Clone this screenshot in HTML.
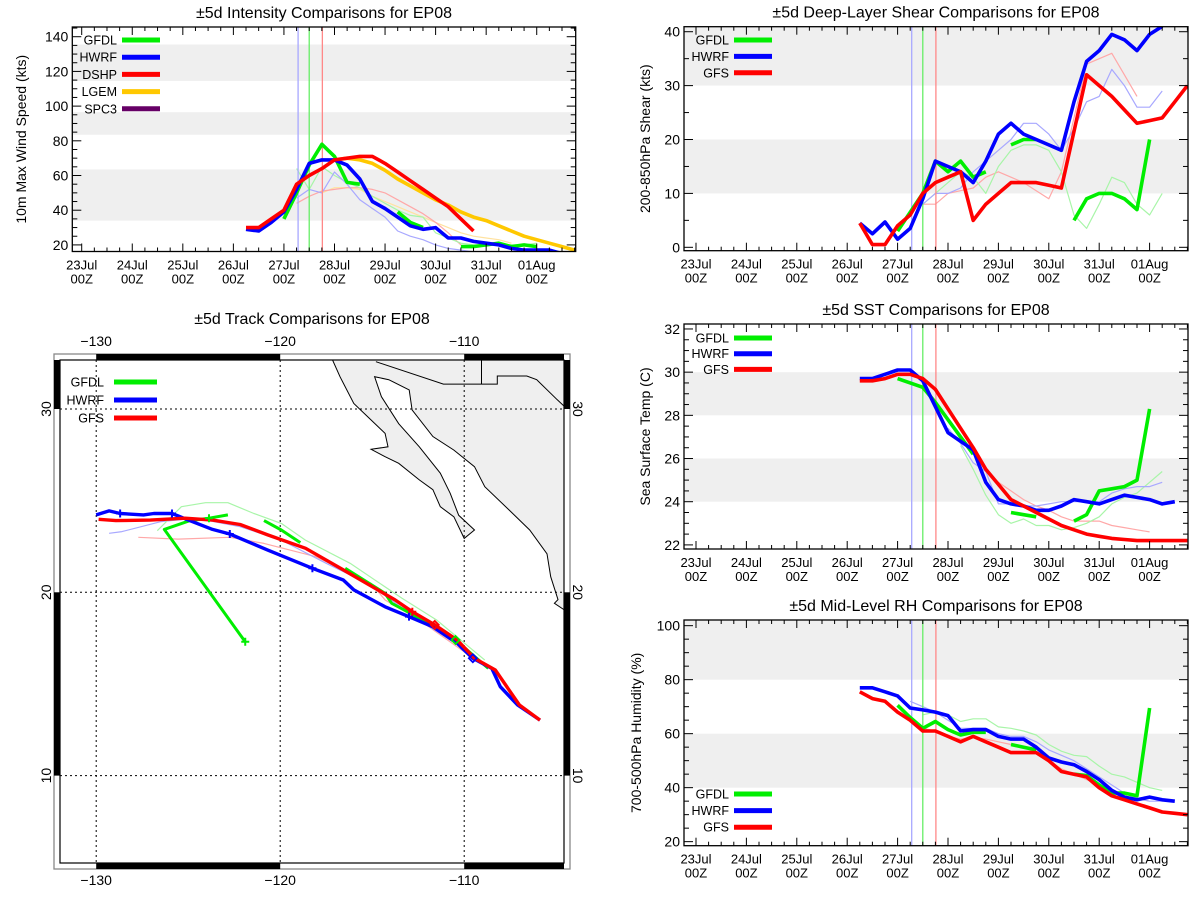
<!DOCTYPE html>
<html><head><meta charset="utf-8"><title>EP08 comparisons</title>
<style>
html,body{margin:0;padding:0;background:#fff;}
svg{display:block;font-family:"Liberation Sans",sans-serif;}
</style></head>
<body>
<svg id="chart" width="1200" height="900" viewBox="0 0 1200 900" xmlns="http://www.w3.org/2000/svg">
<rect x="0" y="0" width="1200" height="900" fill="#fff"/>
</svg>
<script>
// ---------- DATA ----------
const dayLabels = ["23Jul","24Jul","25Jul","26Jul","27Jul","28Jul","29Jul","30Jul","31Jul","01Aug"];
const vlineTimes = [4.28, 4.5, 4.76];

// Intensity (kts), 6-hourly from start day
const intStart = 3.25;
const intGfdl = [null,null,null,35,50,66,78,71,56,55,null,null,39,33,30,null,null,19,19,20,21,19,20,19];
const intHwrf = [29,28,33,39,52,67,69,69,66,58,45,41,36,31,29,30,24,24,22,21,20,18,17,17,17,15];
const intDshp = [30,30,35,40,55,60,64,69,70,71,71,67,62,57,52,47,42,35,28];
const lgemStart = 5.0;
const intLgem = [69,70,69,67,63,58,54,50,46,43,39,36,34,31,28,25,23,21,19,17];
const oldStartA = 4.25;
const intGfdlOld = [64,52,65,60,56,53,48,44,40,37,36,27,24,21,20,20,20,20,20,21];
const intHwrfOld = [47,52,50,62,55,46,41,36,28,25,23,20,18,17,16];
const intDshpOld = [44,48,51,52,53,53,52,50,46,42,38,33,27,20];
const lgemOldStart = 4.75;
const intLgemOld = [50,53,53,52,48,45,42,39,36,33,30,27,25,24,23,21];
const intTicks = [20,40,60,80,100,120,140];

// Shear (kts)
const shStart = 3.25;
const shHwrf = [4.5,2.5,4.7,1.5,3.5,9,16,15,14,12,16,21,23,21,20,19,18,27,34.5,36.5,39.5,38.5,36.5,39.5,41];
const shGfs = [4.5,0.5,0.5,4,6,10,12,13,14,5,8,10,12,12,12,11.5,11,21.5,32,30,28,25.5,23,23.5,24,27,30];
const shGfdl = [null,null,null,3,6.5,10,16,14,16,13,14,null,19,20,20,null,null,5,9,10,10,9,7,20];
const shOldStart = 4.5;
const shHwrfOld = [8,10,10,11,14,16,18,20,23,23,21,18,22,27,28,33,30,26,26,29];
const shGfsOld = [8,8,10,10.5,11,13,14,13,12,10.5,9,14,24,34,35,36,32,28];
const shGfdlOld = [8,10,12,14,13,10,15,18,19,19,18,14,6,3.5,8,13,12,8,6,10];
const shTicks = [0,10,20,30,40];

// SST (C)
const sstStart = 3.25;
const sstHwrf = [29.7,29.7,29.9,30.1,30.1,29.6,28.4,27.2,26.8,26.4,24.9,24.1,23.9,23.8,23.6,23.6,23.8,24.1,24.0,23.9,24.1,24.3,24.2,24.1,23.9,24.0];
const sstGfs = [29.6,29.6,29.7,29.9,29.9,29.7,29.2,28.3,27.4,26.5,25.5,24.8,24.1,23.8,23.5,23.2,22.9,22.7,22.5,22.4,22.3,22.25,22.2,22.2,22.2,22.2,22.2];
const sstGfdl = [null,null,null,29.7,29.5,29.3,28.6,27.8,27.0,26.2,null,null,23.5,23.4,23.3,null,null,23.1,23.4,24.5,24.6,24.7,25.0,28.3];
const sstHwrfOldStart = 5.0;
const sstHwrfOld = [27.4,26.7,25.8,25.4,23.9,23.9,23.8,23.8,23.9,24.0,24.0,24.0,24.0,24.4,24.6,24.7,24.7,24.9];
const sstGfsOldStart = 5.5;
const sstGfsOld = [26.3,25.4,24.9,24.5,24.1,23.8,23.6,23.3,23.1,23.1,23.1,22.9,22.8,22.7,22.6];
const sstGfdlOldStart = 5.25;
const sstGfdlOld = [26.6,25.5,24.3,23.4,23.0,23.2,22.9,22.9,22.7,22.8,23.0,23.3,23.9,24.2,24.4,24.9,25.4];
const sstTicks = [22,24,26,28,30,32];

// RH (%)
const rhStart = 3.25;
const rhHwrf = [77,77,75.5,74,69.5,68.8,68,66.7,61,61.5,61.5,59,58,58,55,51,49.5,48.5,46,43,39,36.5,35.5,36.5,35.5,35];
const rhGfs = [75.5,73,72,68,65,61,61,59,57,59,57,55,53,53,53,50,46,45,44,40,37,35.5,34,32.5,31,30.5,30];
const rhGfdl = [null,null,null,70.5,66,62,64.5,61.5,59.5,60.5,60.5,null,56,55,54,null,null,45,44.5,41,38,38,37,69.5];
const rhGfdlOldStart = 4.5;
const rhGfdlOld = [67,68,67,64.5,65.5,65.5,62.5,62,61,59.5,56,53.5,52,51.5,48,45,44,42,40,39];
const rhHwrfOldStart = 4.25;
const rhHwrfOld = [72,70,68,65,62,62,62,60,59,59,57,54,52,50,47,44,41,38,36,35,35];
const rhGfsOldStart = 4.5;
const rhGfsOld = [62,61,59,58,58.5,58,57,56,55,53,50,47,45,43,41,39,37,36,35];
const rhTicks = [20,40,60,80,100];

// Track (lon, lat)
const trkHwrfLon = [-130,-129.3,-128.7,-127.43,-126.87,-125.88,-124.99,-123.68,-122.74,-120.68,-118.25,-116.57,-116.0,-114.3,-113.0,-111.7,-110.38,-109.53,-108.5,-108.04,-107.1,-105.88];
const trkHwrfLat = [24.22,24.44,24.3,24.22,24.3,24.3,23.94,23.43,23.18,22.3,21.31,20.67,20.13,19.21,18.67,18.12,17.22,16.4,15.85,14.85,13.85,13.03];
const trkGfsLon = [-129.87,-128.93,-127.06,-125.18,-123.68,-122.18,-120.68,-118.62,-116.57,-113.75,-112.82,-111.6,-110.38,-109.44,-108.31,-107.0,-105.88];
const trkGfsLat = [23.98,23.91,23.94,24.04,23.94,23.7,23.13,22.4,21.22,19.58,18.94,18.22,17.4,16.4,15.76,13.85,13.03];
const trkGfdl1Lon = [-122.84,-123.87,-124.9,-126.3,-121.9];
const trkGfdl1Lat = [24.22,24.04,23.91,23.43,17.3];
const trkGfdl2Lon = [-120.88,-119.94,-118.91];
const trkGfdl2Lat = [23.91,23.4,22.71];
const trkGfdl3Lon = [-116.47,-114.3,-113.94,-112.9,-110.47,-108.69];
const trkGfdl3Lat = [21.31,19.94,19.4,18.85,17.4,15.85];
const trkGfdlOldLon = [-126.68,-125.37,-124.06,-122.84,-121.43,-119.94,-118.63,-116.2,-113.38,-111.5,-108.88];
const trkGfdlOldLat = [23.36,24.67,24.89,24.89,24.3,23.76,22.85,21.58,19.67,18.49,16.3];
const trkHwrfOldLon = [-129.3,-128.6,-126.5,-124.6,-122.18,-119.94,-117.5,-115.25,-112.44,-109.63];
const trkHwrfOldLat = [23.22,23.31,23.85,24.04,23.58,22.85,21.58,20.49,18.49,16.67];
const trkGfsOldLon = [-127.71,-125.56,-122.74,-120.88,-118.06,-115.06,-114.3,-112.44,-109.63];
const trkGfsOldLat = [23.0,22.9,23.0,22.67,21.94,20.49,19.58,18.49,16.49];
const mapLonTicks = [-130,-120,-110];
const mapLatTicks = [10,20,30];

// ---------- HELPERS ----------
const NS = "http://www.w3.org/2000/svg";
const root = document.getElementById("chart");
function mk(tag, attrs, parent){
  const e = document.createElementNS(NS, tag);
  for (const k in attrs) e.setAttribute(k, attrs[k]);
  (parent || root).appendChild(e);
  return e;
}
const C = {g:"#00ee00", b:"#0000ff", r:"#ff0000", o:"#ffc800", p:"#660066",
  gl:"#a8f5a8", bl:"#a8a8ff", rl:"#ffa8a8", ol:"#ffe2a0"};

function seriesPath(vals, start, xs, ys){
  let d = "", pen = false;
  for (let i=0;i<vals.length;i++){
    const v = vals[i];
    if (v === null){ pen = false; continue; }
    const x = xs(start + i*0.25), y = ys(v);
    d += (pen ? "L" : "M") + x.toFixed(1) + " " + y.toFixed(1) + " ";
    pen = true;
  }
  return d;
}

let clipId = 0;
function panel(cfg){
  const g = mk("g", {});
  
  
  const X0=cfg.x0, X1=cfg.x1, Y0=cfg.y0, Y1=cfg.y1;
  const xs = d => X0 + (d - cfg.dmin)/(cfg.dmax - cfg.dmin)*(X1-X0);
  const ys = v => Y1 - (v - cfg.vmin)/(cfg.vmax - cfg.vmin)*(Y1-Y0);
  const cid = "clip" + (clipId++);
  const cp = mk("clipPath", {id: cid}, g);
  mk("rect", {x:X0, y:Y0, width:X1-X0, height:Y1-Y0}, cp);
  cfg.bands.forEach(b => {
    const top = ys(Math.min(b[1], cfg.vmax)), bot = ys(Math.max(b[0], cfg.vmin));
    const r = mk("rect", {x:X0, y:top, width:X1-X0, height:bot-top, fill:"#efefef"}, g);
    
    
  });
  const t = mk("text", {x:(X0+X1)/2, y:cfg.y0-9, "text-anchor":"middle", "font-size":"16", fill:"#000"}, g);
  t.textContent = cfg.title;
  
  
  const yl = mk("text", {x:0, y:0, transform:`translate(${cfg.ylx},${(Y0+Y1)/2}) rotate(-90)`, "text-anchor":"middle", "font-size":"14", fill:"#000"}, g);
  yl.textContent = cfg.ylabel;
  
  
  const lg = mk("g", {"clip-path":`url(#${cid})`, fill:"none", "stroke-linejoin":"round"}, g);
  cfg.thin.forEach(s => {
    const p = mk("path", {d: seriesPath(s.v, s.s, xs, ys), stroke:s.c, "stroke-width":1.2}, lg);
    
    
  });
  const vc = [C.bl, "#66ee66", "#ff8888"];
  vlineTimes.forEach((tv,i) => {
    const l = mk("line", {x1:xs(tv), x2:xs(tv), y1:Y0, y2:Y1, stroke:vc[i], "stroke-width":1.3}, lg);
    
    
  });
  cfg.thick.forEach(s => {
    const p = mk("path", {d: seriesPath(s.v, s.s, xs, ys), stroke:s.c, "stroke-width":3.6}, lg);
    
    
  });
  mk("rect", {x:X0, y:Y0, width:X1-X0, height:Y1-Y0, fill:"none", stroke:"#000", "stroke-width":1.3}, g);
  for (let q = Math.ceil(cfg.dmin*4); q <= cfg.dmax*4; q++){
    const d = q/4, x = xs(d), L = (q%4===0) ? 8 : 4;
    mk("line", {x1:x,x2:x,y1:Y1,y2:Y1-L,stroke:"#000","stroke-width":1}, g);
    mk("line", {x1:x,x2:x,y1:Y0,y2:Y0+L,stroke:"#000","stroke-width":1}, g);
  }
  dayLabels.forEach((lab,i) => {
    const x = xs(i);
    const a = mk("text", {x:x, y:Y1+18, "text-anchor":"middle", "font-size":"13", fill:"#000"}, g);
    a.textContent = lab;
    
    
    const b = mk("text", {x:x, y:Y1+32, "text-anchor":"middle", "font-size":"13", fill:"#000"}, g);
    b.textContent = "00Z";
    
    
  });
  for (let v = Math.ceil(cfg.vmin/cfg.minor)*cfg.minor; v <= cfg.vmax; v += cfg.minor){
    const y = ys(v);
    const major = cfg.ticks.includes(Math.round(v*100)/100);
    const L = major ? 9 : 5;
    mk("line", {x1:X0,x2:X0+L,y1:y,y2:y,stroke:"#000","stroke-width":1}, g);
    mk("line", {x1:X1,x2:X1-L,y1:y,y2:y,stroke:"#000","stroke-width":1}, g);
  }
  cfg.ticks.forEach(v => {
    const tx = mk("text", {x:X0-4, y:ys(v)+5, "text-anchor":"end", "font-size":"14", fill:"#000"}, g);
    tx.textContent = v;
    
    
  });
  cfg.legend.forEach((it,i) => {
    const y = cfg.legY + i*cfg.legDy;
    const tx = mk("text", {x:cfg.legTx, y:y+4.5, "text-anchor":"end", "font-size":"12.5", fill:"#000"}, g);
    tx.textContent = it[0];
    
    
    const l = mk("line", {x1:cfg.legTx+5, x2:cfg.legTx+43, y1:y, y2:y, stroke:it[1], "stroke-width":5}, g);
    
    
  });
}

// ---------- PANELS ----------
const RX0 = 684, RX1 = 1188, RDMIN = -0.238, RDMAX = 9.762;
panel({name:"intensity-panel", title:"±5d Intensity Comparisons for EP08", ylabel:"10m Max Wind Speed (kts)", ylx:26,
  x0:72.3, x1:575.7, y0:27, y1:251.5, dmin:-0.186, dmax:9.771, vmin:16.2, vmax:145.6,
  bands:[[34,63.5],[83.5,96.5],[114.5,135.5]], ticks:intTicks, minor:5,
  thin:[{v:intLgemOld,s:lgemOldStart,c:C.ol,n:"lgem-prev-line"},{v:intDshpOld,s:oldStartA,c:C.rl,n:"dshp-prev-line"},
        {v:intGfdlOld,s:oldStartA,c:C.gl,n:"gfdl-prev-line"},{v:intHwrfOld,s:oldStartA,c:C.bl,n:"hwrf-prev-line"}],
  thick:[{v:intLgem,s:lgemStart,c:C.o,n:"lgem-line"},{v:intGfdl,s:intStart,c:C.g,n:"gfdl-line"},
         {v:intHwrf,s:intStart,c:C.b,n:"hwrf-line"},{v:intDshp,s:intStart,c:C.r,n:"dshp-line"}],
  legend:[["GFDL",C.g],["HWRF",C.b],["DSHP",C.r],["LGEM",C.o],["SPC3",C.p]], legTx:117, legY:40, legDy:17.2});

panel({name:"shear-panel", title:"±5d Deep-Layer Shear Comparisons for EP08", ylabel:"200-850hPa Shear (kts)", ylx:650,
  x0:RX0, x1:RX1, y0:26.7, y1:250.7, dmin:RDMIN, dmax:RDMAX, vmin:-0.63, vmax:40.93,
  bands:[[10,20],[30,50]], ticks:shTicks, minor:5,
  thin:[{v:shGfsOld,s:shOldStart,c:C.rl,n:"gfs-prev-line"},{v:shGfdlOld,s:shOldStart,c:C.gl,n:"gfdl-prev-line"},{v:shHwrfOld,s:shOldStart,c:C.bl,n:"hwrf-prev-line"}],
  thick:[{v:shGfdl,s:shStart,c:C.g,n:"gfdl-line"},{v:shHwrf,s:shStart,c:C.b,n:"hwrf-line"},{v:shGfs,s:shStart,c:C.r,n:"gfs-line"}],
  legend:[["GFDL",C.g],["HWRF",C.b],["GFS",C.r]], legTx:729, legY:40, legDy:16.4});

panel({name:"sst-panel", title:"±5d SST Comparisons for EP08", ylabel:"Sea Surface Temp (C)", ylx:650,
  x0:RX0, x1:RX1, y0:324, y1:549, dmin:RDMIN, dmax:RDMAX, vmin:21.81, vmax:32.23,
  bands:[[24,26],[28,30]], ticks:sstTicks, minor:0.5,
  thin:[{v:sstGfsOld,s:sstGfsOldStart,c:C.rl,n:"gfs-prev-line"},{v:sstGfdlOld,s:sstGfdlOldStart,c:C.gl,n:"gfdl-prev-line"},{v:sstHwrfOld,s:sstHwrfOldStart,c:C.bl,n:"hwrf-prev-line"}],
  thick:[{v:sstGfdl,s:sstStart,c:C.g,n:"gfdl-line"},{v:sstHwrf,s:sstStart,c:C.b,n:"hwrf-line"},{v:sstGfs,s:sstStart,c:C.r,n:"gfs-line"}],
  legend:[["GFDL",C.g],["HWRF",C.b],["GFS",C.r]], legTx:729, legY:338, legDy:15.7});

panel({name:"rh-panel", title:"±5d Mid-Level RH Comparisons for EP08", ylabel:"700-500hPa Humidity (%)", ylx:641,
  x0:RX0, x1:RX1, y0:620, y1:845.7, dmin:RDMIN, dmax:RDMAX, vmin:18.5, vmax:102.1,
  bands:[[40,60],[80,110]], ticks:rhTicks, minor:5,
  thin:[{v:rhGfsOld,s:rhGfsOldStart,c:C.rl,n:"gfs-prev-line"},{v:rhGfdlOld,s:rhGfdlOldStart,c:C.gl,n:"gfdl-prev-line"},{v:rhHwrfOld,s:rhHwrfOldStart,c:C.bl,n:"hwrf-prev-line"}],
  thick:[{v:rhGfdl,s:rhStart,c:C.g,n:"gfdl-line"},{v:rhHwrf,s:rhStart,c:C.b,n:"hwrf-line"},{v:rhGfs,s:rhStart,c:C.r,n:"gfs-line"}],
  legend:[["GFDL",C.g],["HWRF",C.b],["GFS",C.r]], legTx:729, legY:794, legDy:16.6});

// ---------- TRACK MAP ----------
(function(){
  const g = mk("g", {});
  
  
  const lx = lon => 96.2 + (lon + 130)*18.4;
  const ly = lat => 409 - (lat - 30)*18.33;
  const IX0=60, IX1=564, IY0=360, IY1=863, OX0=54, OX1=570, OY0=354, OY1=869;
  const t = mk("text", {x:312, y:324, "text-anchor":"middle", "font-size":"16", fill:"#000"}, g);
  t.textContent = "±5d Track Comparisons for EP08";
  
  
  const cp = mk("clipPath", {id:"mapclip"}, g);
  mk("rect", {x:IX0, y:IY0, width:IX1-IX0, height:IY1-IY0}, cp);
  const mg = mk("g", {"clip-path":"url(#mapclip)"}, g);
  const land = [[-117.15,32.8],[-117.15,32.67],[-116.75,31.76],[-116.0,30.3],[-115.06,29.4],[-114.3,28.67],[-114.14,27.94],
    [-115.06,27.8],[-114.3,27.4],[-113.56,27.04],[-112.44,26.13],[-111.7,25.6],[-111.3,24.67],[-110.56,24.12],[-110.0,22.94],
    [-109.44,23.4],[-110.3,24.2],[-110.76,25.4],[-111.3,26.5],[-112.44,27.94],[-113.56,29.2],[-114.5,30.67],[-114.87,31.76],[-114.1,31.6],
    [-112.99,31.04],[-112.83,29.95],[-111.7,28.5],[-110.56,27.76],[-109.44,26.85],[-108.88,25.76],[-107.56,24.49],[-106.44,23.4],
    [-105.5,22.1],[-105.3,20.85],[-104.9,19.6],[-105.1,19.4],[-104.5,19.0],[-104.0,19.0],[-104.0,33.5],[-117.15,33.5]];
  const lp = mk("path", {d: land.map((p,i)=>(i?"L":"M")+lx(p[0]).toFixed(1)+" "+ly(p[1]).toFixed(1)).join(" ")+"Z", fill:"#efefef", stroke:"#000", "stroke-width":1}, mg);
  
  
  const border = [[-114.8,32.58],[-111.13,31.36],[-108.2,31.36],[-108.2,31.8],[-106.6,31.8],[-106.06,31.6],[-104.94,30.5],[-104.3,29.9]];
  const bp = mk("path", {d: border.map((p,i)=>(i?"L":"M")+lx(p[0]).toFixed(1)+" "+ly(p[1]).toFixed(1)).join(" "), fill:"none", stroke:"#000", "stroke-width":1}, mg);
  
  
  mk("line", {x1:lx(-109.06), x2:lx(-109.06), y1:IY0, y2:ly(31.36), stroke:"#000", "stroke-width":1}, mg);
  mapLonTicks.forEach(lon => { mk("line", {x1:lx(lon),x2:lx(lon),y1:IY0,y2:IY1,stroke:"#000","stroke-width":1,"stroke-dasharray":"2,3"}, mg); });
  mapLatTicks.forEach(lat => { mk("line", {x1:IX0,x2:IX1,y1:ly(lat),y2:ly(lat),stroke:"#000","stroke-width":1,"stroke-dasharray":"2,3"}, mg); });
  function trk(lons, lats, col, w, name){
    const d = lons.map((lo,i)=>(i?"L":"M")+lx(lo).toFixed(1)+" "+ly(lats[i]).toFixed(1)).join(" ");
    const p = mk("path", {d:d, fill:"none", stroke:col, "stroke-width":w, "stroke-linejoin":"round"}, mg);
    
    
  }
  trk(trkGfsOldLon, trkGfsOldLat, C.rl, 1.2, "gfs-prev-track");
  trk(trkHwrfOldLon, trkHwrfOldLat, C.bl, 1.2, "hwrf-prev-track");
  trk(trkGfdlOldLon, trkGfdlOldLat, C.gl, 1.2, "gfdl-prev-track");
  trk(trkGfdl1Lon, trkGfdl1Lat, C.g, 3, "gfdl-track-1");
  trk(trkGfdl2Lon, trkGfdl2Lat, C.g, 3, "gfdl-track-2");
  trk(trkGfdl3Lon, trkGfdl3Lat, C.g, 3, "gfdl-track-3");
  trk(trkHwrfLon, trkHwrfLat, C.b, 3.4, "hwrf-track");
  trk(trkGfsLon, trkGfsLat, C.r, 3.4, "gfs-track");
  function plus(lon, lat, col){ const x=lx(lon), y=ly(lat);
    mk("path", {d:`M${x-4} ${y}H${x+4}M${x} ${y-4}V${y+4}`, stroke:col, "stroke-width":2}, mg); }
  function diam(lon, lat, col){ const x=lx(lon), y=ly(lat);
    mk("path", {d:`M${x} ${y-4}L${x+4} ${y}L${x} ${y+4}L${x-4} ${y}Z`, stroke:col, "stroke-width":1.8, fill:"none"}, mg); }
  [2,5,8,10,14].forEach(i => plus(trkHwrfLon[i], trkHwrfLat[i], C.b));
  diam(trkHwrfLon[17], trkHwrfLat[17], C.b);
  plus(trkGfsLon[10], trkGfsLat[10], C.r); diam(trkGfsLon[11], trkGfsLat[11], C.r);
  plus(trkGfdl1Lon[1], trkGfdl1Lat[1], C.g); plus(trkGfdl1Lon[4], trkGfdl1Lat[4], C.g);
  diam(trkGfdl3Lon[4], trkGfdl3Lat[4], C.g);
  mk("rect", {x:OX0, y:OY0, width:OX1-OX0, height:OY1-OY0, fill:"none", stroke:"#888", "stroke-width":1.3}, g);
  const bars = [[lx(-130),lx(-120)],[lx(-110),IX1]];
  bars.forEach(b => {
    mk("rect", {x:b[0], y:OY0, width:b[1]-b[0], height:IY0-OY0, fill:"#000"}, g);
    mk("rect", {x:b[0], y:IY1, width:b[1]-b[0], height:OY1-IY1, fill:"#000"}, g);
  });
  const vb = [[IY0, ly(30)],[ly(20), ly(10)]];
  vb.forEach(b => {
    mk("rect", {x:OX0, y:b[0], width:IX0-OX0, height:b[1]-b[0], fill:"#000"}, g);
    mk("rect", {x:IX1, y:b[0], width:OX1-IX1, height:b[1]-b[0], fill:"#000"}, g);
  });
  mk("rect", {x:IX0, y:IY0, width:IX1-IX0, height:IY1-IY0, fill:"none", stroke:"#000", "stroke-width":1.2}, g);
  mapLonTicks.forEach(lon => {
    [346, 885].forEach(yy => {
      const tx = mk("text", {x:lx(lon), y:yy, "text-anchor":"middle", "font-size":"14", fill:"#000"}, g);
      tx.textContent = "−" + Math.abs(lon);
      
      
    });
  });
  mapLatTicks.forEach(lat => {
    const a = mk("text", {x:0, y:0, transform:`translate(51,${ly(lat)}) rotate(-90)`, "text-anchor":"middle", "font-size":"14", fill:"#000"}, g);
    a.textContent = lat;
    
    
    const b = mk("text", {x:0, y:0, transform:`translate(573,${ly(lat)}) rotate(90)`, "text-anchor":"middle", "font-size":"14", fill:"#000"}, g);
    b.textContent = lat;
    
    
  });
  [["GFDL",C.g],["HWRF",C.b],["GFS",C.r]].forEach((it,i) => {
    const y = 382 + i*18;
    const tx = mk("text", {x:104, y:y+4.5, "text-anchor":"end", "font-size":"12.5", fill:"#000"}, g);
    tx.textContent = it[0];
    
    
    const l = mk("line", {x1:114, x2:157, y1:y, y2:y, stroke:it[1], "stroke-width":5}, g);
    
    
  });
})();
</script>
</body></html>
